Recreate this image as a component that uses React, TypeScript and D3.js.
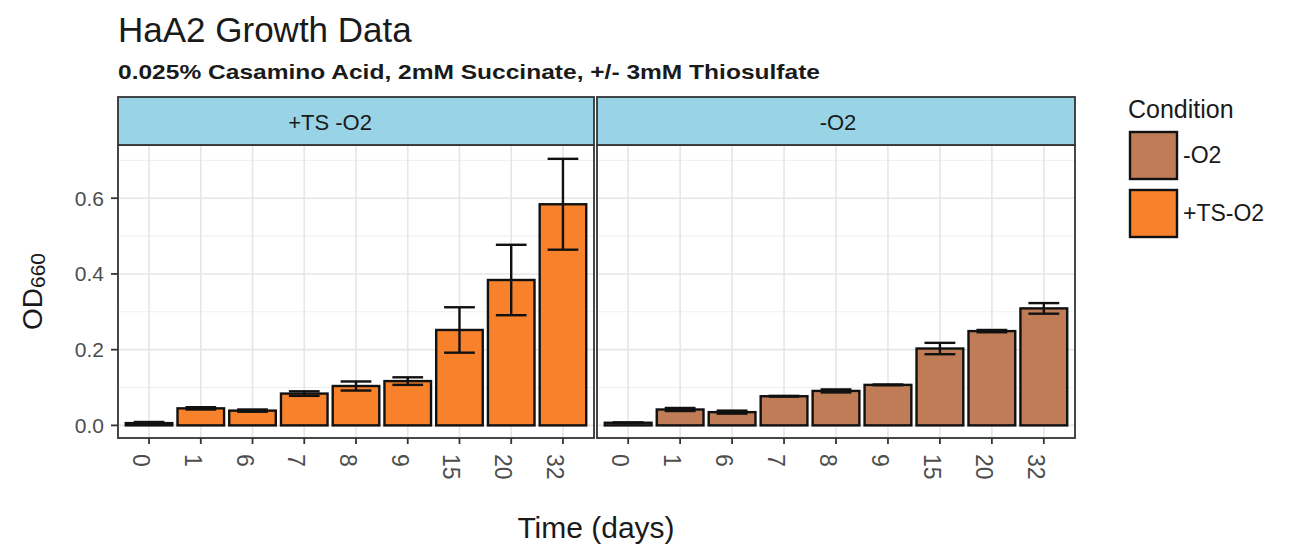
import React from "react";
import * as d3 from "d3";

const days = ["0", "1", "6", "7", "8", "9", "15", "20", "32"];
const tsMean = [0.006, 0.045, 0.039, 0.084, 0.104, 0.117, 0.252, 0.384, 0.584];
const tsErr = [0.003, 0.003, 0.003, 0.006, 0.012, 0.010, 0.060, 0.093, 0.120];
const o2Mean = [0.007, 0.042, 0.035, 0.077, 0.091, 0.107, 0.203, 0.249, 0.309];
const o2Err = [0.001, 0.004, 0.004, 0.001, 0.004, 0.001, 0.015, 0.003, 0.014];
const yTicks = [0, 0.2, 0.4, 0.6];
const yMinor = [0.1, 0.3, 0.5, 0.7];
const panelNames = ["+TS -O2", "-O2"];
const legendLabels = ["-O2", "+TS-O2"];

const ORANGE = "#f8822b";
const BROWN = "#c07c57";
const STRIP = "#99d4e6";

const W = 1298, H = 547;
const panelTop = 145, panelBottom = 438, stripTop = 97;
const panels = [
  { x0: 118, x1: 594, name: panelNames[0], labelX: 330, mean: tsMean, err: tsErr, fill: ORANGE },
  { x0: 597, x1: 1075, name: panelNames[1], labelX: 838, mean: o2Mean, err: o2Err, fill: BROWN },
];

const y = d3.scaleLinear().domain([-0.0333, 0.7405]).range([panelBottom, panelTop]);
const FONT = "'Liberation Sans', Arial, sans-serif";

function Panel({ p, showY }: { p: any; showY: boolean }) {
  const x = d3.scaleLinear().domain([0.4, days.length + 0.6]).range([p.x0, p.x1]);
  const bw = x(0.9) - x(0);
  const cap = bw * 0.33;
  return (
    <g>
      {yMinor.map((v) => (
        <line key={"mi" + v} x1={p.x0} x2={p.x1} y1={y(v)} y2={y(v)} stroke="#efefef" strokeWidth={1} />
      ))}
      {yTicks.map((v) => (
        <line key={"ma" + v} x1={p.x0} x2={p.x1} y1={y(v)} y2={y(v)} stroke="#e6e6e6" strokeWidth={1.6} />
      ))}
      {days.map((d, i) => (
        <line key={"vg" + d} x1={x(i + 1)} x2={x(i + 1)} y1={panelTop} y2={panelBottom} stroke="#e6e6e6" strokeWidth={1.6} />
      ))}
      {days.map((d, i) => (
        <rect key={"b" + d} x={x(i + 1) - bw / 2} y={y(p.mean[i])} width={bw} height={y(0) - y(p.mean[i])}
          fill={p.fill} stroke="#111" strokeWidth={2.4} />
      ))}
      {days.map((d, i) => {
        const cx = x(i + 1);
        const hi = y(p.mean[i] + p.err[i]);
        const lo = y(p.mean[i] - p.err[i]);
        return (
          <g key={"e" + d} stroke="#111" strokeWidth={2.4}>
            <line x1={cx} x2={cx} y1={hi} y2={lo} />
            <line x1={cx - cap} x2={cx + cap} y1={hi} y2={hi} />
            <line x1={cx - cap} x2={cx + cap} y1={lo} y2={lo} />
          </g>
        );
      })}
      <rect x={p.x0} y={panelTop} width={p.x1 - p.x0} height={panelBottom - panelTop} fill="none" stroke="#333" strokeWidth={1.8} />
      <rect x={p.x0} y={stripTop} width={p.x1 - p.x0} height={panelTop - stripTop} fill={STRIP} stroke="#333" strokeWidth={1.8} />
      <text x={p.labelX} y={(stripTop + panelTop) / 2 + 1} dy="0.35em" textAnchor="middle" fontSize={22} fill="#1a1a1a" fontFamily={FONT}>{p.name}</text>
      {days.map((d, i) => (
        <g key={"xt" + d}>
          <line x1={x(i + 1)} x2={x(i + 1)} y1={panelBottom} y2={panelBottom + 6} stroke="#333" strokeWidth={1.8} />
          <text transform={`translate(${x(i + 1)},${panelBottom + 16}) rotate(90)`} dy={16} textAnchor="start" fontSize={23} fill="#4d4d4d" fontFamily={FONT}>{d}</text>
        </g>
      ))}
      {showY && yTicks.map((v) => (
        <g key={"yt" + v}>
          <line x1={p.x0 - 7} x2={p.x0} y1={y(v)} y2={y(v)} stroke="#333" strokeWidth={1.8} />
          <text x={p.x0 - 14} y={y(v)} dy="0.36em" textAnchor="end" fontSize={21} fill="#4d4d4d" fontFamily={FONT}>{v.toFixed(1)}</text>
        </g>
      ))}
    </g>
  );
}

export default function App() {
  const legFills = [BROWN, ORANGE];
  return (
    <svg width={W} height={H} style={{ position: "absolute", left: 0, top: 0, background: "#fff" }} fontFamily={FONT}>
      <rect width={W} height={H} fill="#fff" />
      <text x={118} y={42} fontSize={35} fill="#1a1a1a">HaA2 Growth Data</text>
      <text x={118} y={79} fontSize={21} fontWeight="bold" fill="#1a1a1a" textLength={702} lengthAdjust="spacingAndGlyphs">0.025% Casamino Acid, 2mM Succinate, +/- 3mM Thiosulfate</text>
      {panels.map((p, i) => <Panel key={p.name} p={p} showY={i === 0} />)}
      <text x={596} y={538} textAnchor="middle" fontSize={30} fill="#1a1a1a">Time (days)</text>
      <text transform={`translate(42,${(panelTop + panelBottom) / 2}) rotate(-90)`} textAnchor="middle" fontSize={28} fill="#1a1a1a">
        OD<tspan fontSize={21} dy={3}>660</tspan>
      </text>
      <text x={1128} y={118} fontSize={25} fill="#1a1a1a">Condition</text>
      {legendLabels.map((l, i) => (
        <g key={l}>
          <rect x={1130} y={132 + i * 58} width={47} height={47} fill={legFills[i]} stroke="#111" strokeWidth={2.4} />
          <text x={1183} y={155 + i * 58} dy="0.35em" fontSize={23} fill="#1a1a1a">{l}</text>
        </g>
      ))}
    </svg>
  );
}
